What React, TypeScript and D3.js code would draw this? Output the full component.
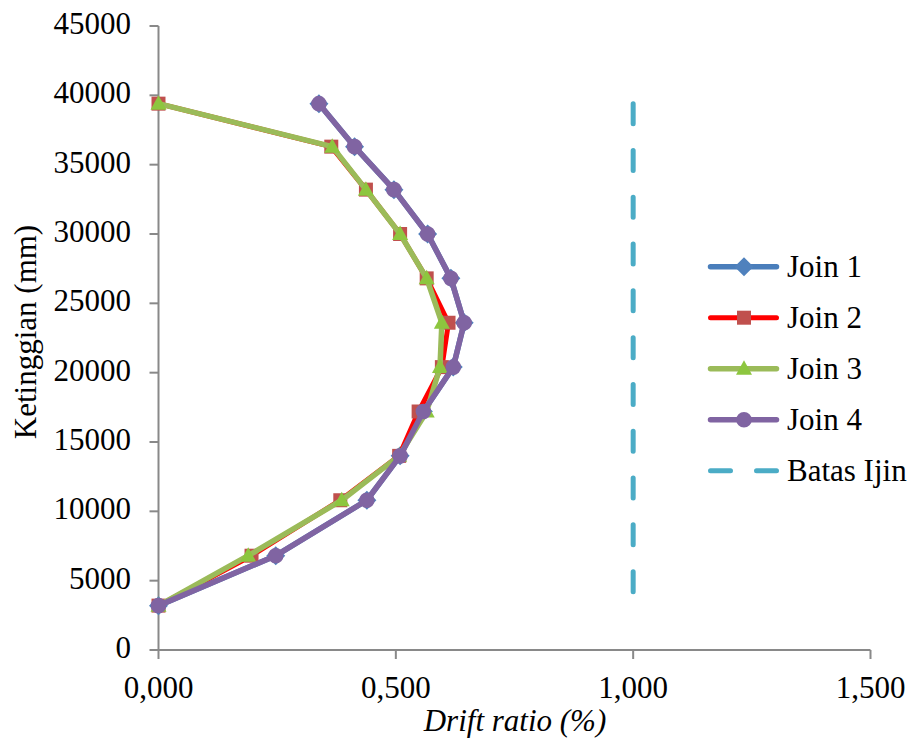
import React from "react";
import * as d3 from "d3";

// ---- data ----
const heights = [3200, 6800, 10800, 14000, 17200, 20400, 23600, 26800, 30000, 33200, 36300, 39400];
const join1 = [0, 0.247, 0.439, 0.509, 0.558, 0.621, 0.644, 0.616, 0.567, 0.496, 0.413, 0.338];
const join2 = [0, 0.196, 0.383, 0.507, 0.548, 0.597, 0.611, 0.565, 0.509, 0.437, 0.364, 0];
const join3 = [0, 0.189, 0.386, 0.507, 0.565, 0.593, 0.597, 0.565, 0.509, 0.437, 0.366, 0];
const join4 = [0, 0.247, 0.439, 0.509, 0.558, 0.621, 0.644, 0.616, 0.567, 0.496, 0.413, 0.338];
const batasX = [1, 1];
const batasY = [39400, 3200];
const xTicks = [0, 0.5, 1, 1.5];
const xTickLabels = ["0,000", "0,500", "1,000", "1,500"];
const yTicks = [0, 5000, 10000, 15000, 20000, 25000, 30000, 35000, 40000, 45000];
const seriesNames = ["Join 1", "Join 2", "Join 3", "Join 4", "Batas Ijin"];

const W = 915;
const H = 747;
const txt: any = { fontFamily: '"Liberation Serif"', fontSize: "31px" };

const x = d3.scaleLinear().domain([0, 1.5]).range([158.5, 870.5]);
const y = d3.scaleLinear().domain([0, 45000]).range([650, 26]);

type Marker = "diamond" | "square" | "triangle" | "circle" | "none";
interface Series {
  name: string;
  xs: number[];
  ys: number[];
  line: string;
  fill: string;
  width: number;
  marker: Marker;
  dash?: string;
}

const series: Series[] = [
  { name: seriesNames[0], xs: join1, ys: heights, line: "#4A7EBB", fill: "#4F81BD", width: 5.5, marker: "diamond" },
  { name: seriesNames[1], xs: join2, ys: heights, line: "#FF0000", fill: "#C0504D", width: 5, marker: "square" },
  { name: seriesNames[2], xs: join3, ys: heights, line: "#9BBB59", fill: "#8DC63F", width: 5.5, marker: "triangle" },
  { name: seriesNames[3], xs: join4, ys: heights, line: "#8064A2", fill: "#8064A2", width: 5.5, marker: "circle" },
  { name: seriesNames[4], xs: batasX, ys: batasY, line: "#4BACC6", fill: "#4BACC6", width: 5, marker: "none", dash: "20 26.8" },
];

function markerPath(m: Marker): string {
  switch (m) {
    case "diamond":
      return "M0,-9.5L9.5,0L0,9.5L-9.5,0Z";
    case "square":
      return "M-7,-7H7V7H-7Z";
    case "triangle":
      return "M0,-8.5L8,6L-8,6Z";
    case "circle":
      return d3.symbol().type(d3.symbolCircle).size(Math.PI * 7.8 * 7.8)() || "";
    default:
      return "";
  }
}

function MarkerShape({ m, cx, cy, fill }: { m: Marker; cx: number; cy: number; fill: string }) {
  if (m === "none") return null;
  return <path d={markerPath(m)} transform={`translate(${cx},${cy})`} fill={fill} />;
}

export default function App() {
  const lineGen = d3
    .line<[number, number]>()
    .x((d) => x(d[0]))
    .y((d) => y(d[1]));

  const axisColor = "#898989";
  const legendX0 = 708;
  const legendX1 = 779;
  const legendMid = 744;
  const legendY0 = 266.7;
  const legendStep = 51;

  return (
    <svg width={W} height={H} style={{ position: "absolute", left: 0, top: 0 }}>
      <rect x={0} y={0} width={W} height={H} fill="#fff" />
      {/* axes */}
      <line x1={x(0)} x2={x(0)} y1={y(45000)} y2={y(0)} stroke={axisColor} strokeWidth={2} />
      <line x1={x(0)} x2={x(1.5)} y1={y(0)} y2={y(0)} stroke={axisColor} strokeWidth={2} />
      {yTicks.map((t) => (
        <g key={"y" + t}>
          <line x1={x(0) - 9} x2={x(0)} y1={y(t)} y2={y(t)} stroke={axisColor} strokeWidth={2} />
          <text x={131} y={y(t) + 8} textAnchor="end" style={txt} fill="#000">
            {t}
          </text>
        </g>
      ))}
      {xTicks.map((t, i) => (
        <g key={"x" + t}>
          <line x1={x(t)} x2={x(t)} y1={y(0)} y2={y(0) + 9} stroke={axisColor} strokeWidth={2} />
          <text x={x(t)} y={698} textAnchor="middle" style={txt} fill="#000">
            {xTickLabels[i]}
          </text>
        </g>
      ))}
      <text x={515} y={731} textAnchor="middle" style={{ ...txt, fontStyle: "italic" }} fill="#000">
        Drift ratio (%)
      </text>
      <text transform={`translate(36,332) rotate(-90)`} textAnchor="middle" style={txt} fill="#000">
        Ketinggian (mm)
      </text>

      {/* series */}
      {series.map((s) => {
        const pts: [number, number][] = s.xs.map((v, i) => [v, s.ys[i]]);
        return (
          <g key={s.name}>
            <path
              d={lineGen(pts) || ""}
              fill="none"
              stroke={s.line}
              strokeWidth={s.width}
              strokeLinejoin="round"
              strokeLinecap="round"
              strokeDasharray={s.dash}
            />
            {pts.map((p, i) => (
              <MarkerShape key={i} m={s.marker} cx={x(p[0])} cy={y(p[1])} fill={s.fill} />
            ))}
          </g>
        );
      })}

      {/* legend */}
      {series.map((s, i) => {
        const cy = legendY0 + i * legendStep;
        return (
          <g key={"leg" + s.name}>
            {s.dash ? (
              <>
                <line x1={legendX0 + 2.5} x2={legendX0 + 22.5} y1={cy} y2={cy} stroke={s.line} strokeWidth={s.width} strokeLinecap="round" />
                <line x1={legendX1 - 22.5} x2={legendX1 - 2.5} y1={cy} y2={cy} stroke={s.line} strokeWidth={s.width} strokeLinecap="round" />
              </>
            ) : (
              <line x1={legendX0 + 2.5} x2={legendX1 - 2.5} y1={cy} y2={cy} stroke={s.line} strokeWidth={s.width} strokeLinecap="round" />
            )}
            <MarkerShape m={s.marker} cx={legendMid} cy={cy} fill={s.fill} />
            <text x={787} y={cy + 10.5} style={txt} fill="#000">
              {s.name}
            </text>
          </g>
        );
      })}
    </svg>
  );
}
